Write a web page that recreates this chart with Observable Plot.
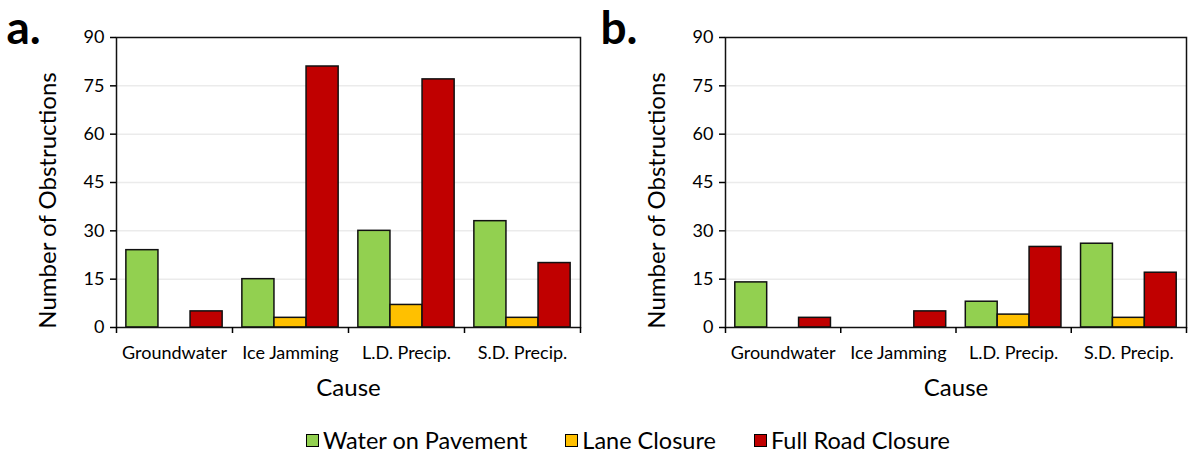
<!DOCTYPE html>
<html><head><meta charset="utf-8">
<script src="https://cdn.jsdelivr.net/npm/d3@7"></script>
<script src="https://cdn.jsdelivr.net/npm/@observablehq/plot@0.6"></script>
<style>
body{margin:0;background:#fff;font-family:Lato,"Open Sans",sans-serif;}
#charts{display:flex;width:1188px;height:410px;}
#legend{display:flex;align-items:center;height:48px;padding-left:306px;padding-top:12px;box-sizing:border-box;width:1188px;font-size:23.5px;color:#000;}
.item{display:flex;align-items:center;margin-right:38px;}
.sw{width:11px;height:11px;border:1.5px solid #000;margin-right:4px;}
</style></head><body>
<div id="charts"></div><div id="legend"></div>
<script>
const causes = ["Groundwater", "Ice Jamming", "L.D. Precip.", "S.D. Precip."];
const seriesNames = ["Water on Pavement", "Lane Closure", "Full Road Closure"];
const seriesColors = ["#92d050", "#ffc000", "#c00000"];
const panelA_water = [24, 15, 30, 33];
const panelA_lane = [0, 3, 7, 3];
const panelA_full = [5, 81, 77, 20];
const panelB_water = [14, 0, 8, 26];
const panelB_lane = [0, 0, 4, 3];
const panelB_full = [3, 5, 25, 17];
const yTicks = [0, 15, 30, 45, 60, 75, 90];
const gridTicks = [15, 30, 45, 60, 75];
const yLabel = "Number of Obstructions";
const xLabel = "Cause";

const groupPad = 0.085;
const barW = (1 - 2 * groupPad) / seriesNames.length;

function rows(seriesArrays) {
  const out = [];
  causes.forEach((c, ci) => {
    seriesArrays.forEach((arr, si) => {
      if (arr[ci] > 0) out.push({cause: c, series: seriesNames[si], value: arr[ci],
        x1: ci + groupPad + si * barW, x2: ci + groupPad + (si + 1) * barW});
    });
  });
  return out;
}

function panel(tag, data, ml, mr) {
  return Plot.plot({
    width: 594, height: 410,
    marginLeft: ml, marginRight: mr, marginTop: 37, marginBottom: 83,
    style: {fontFamily: "Lato, 'Open Sans', sans-serif", fontSize: "18px", color: "#000", background: "#fff"},
    x: {domain: [0, causes.length]},
    y: {domain: [0, 90]},
    color: {domain: seriesNames, range: seriesColors},
    marks: [
      Plot.gridY(gridTicks, {stroke: "#ebebeb", strokeOpacity: 1, strokeWidth: 1.5}),
      Plot.rectY(data, {x1: "x1", x2: "x2", y: "value", fill: "series", stroke: "#111", strokeWidth: 1.5}),
      Plot.frame({stroke: "#111", strokeWidth: 1.5}),
      Plot.axisY(yTicks, {tickSize: 6, tickPadding: 6, fontSize: 18, label: null, strokeWidth: 1.5}),
      Plot.axisX(d3.range(causes.length + 1), {tickSize: 6, tickFormat: () => "", label: null, strokeWidth: 1.5}),
      Plot.axisX(causes.map((c, i) => i + 0.5), {tickSize: 0, tickPadding: 19, tickFormat: v => causes[Math.floor(v)], fontSize: 18, label: null}),
      Plot.text([yLabel], {frameAnchor: "left", rotate: -90, textAnchor: "middle", dx: -68, dy: 18, fontSize: 24, text: d => d}),
      Plot.text([xLabel], {frameAnchor: "bottom", dy: 68, fontSize: 24, text: d => d}),
      Plot.text([tag], {frameAnchor: "top-left", dx: -ml + 6, dy: 6, textAnchor: "start", lineAnchor: "bottom", fontSize: 46, fontWeight: "bold", text: d => d})
    ]
  });
}

const charts = document.getElementById("charts");
charts.append(panel("a.", rows([panelA_water, panelA_lane, panelA_full]), 116, 14));
charts.append(panel("b.", rows([panelB_water, panelB_lane, panelB_full]), 131, 2));

const legend = document.getElementById("legend");
seriesNames.forEach((s, i) => {
  const item = document.createElement("div");
  item.className = "item";
  const sw = document.createElement("div");
  sw.className = "sw";
  sw.style.background = seriesColors[i];
  const t = document.createElement("span");
  t.textContent = s;
  item.append(sw, t);
  legend.append(item);
});
</script>
</body></html>
